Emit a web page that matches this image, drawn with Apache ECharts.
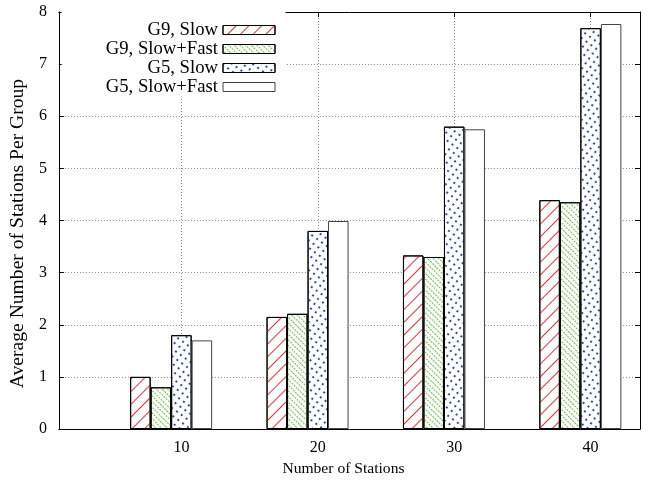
<!DOCTYPE html>
<html>
<head>
<meta charset="utf-8">
<script src="https://cdn.jsdelivr.net/npm/echarts@6/dist/echarts.min.js"></script>
<style>html,body{margin:0;padding:0;background:#fff}#c{width:654px;height:483px}</style>
</head>
<body>
<div id="c"></div>
<script>
var stations = [10, 20, 30, 40];
var g9Slow = [1.0, 2.15, 3.33, 4.39];
var g9SlowFast = [0.8, 2.21, 3.30, 4.35];
var g5Slow = [1.8, 3.80, 5.80, 7.69];
var g5SlowFast = [1.7, 3.99, 5.75, 7.77];
var yTicks = [0, 1, 2, 3, 4, 5, 6, 7, 8];
var seriesNames = ['G9, Slow', 'G9, Slow+Fast', 'G5, Slow', 'G5, Slow+Fast'];

function pairs(vals) { return stations.map(function (s, i) { return [s, vals[i]]; }); }

var FONT = 'Liberation Serif';
var chart = echarts.init(document.getElementById('c'), null, { renderer: 'canvas' });

var decals = [
  { symbol: 'rect', symbolSize: 1, color: '#f03030', dashArrayX: [1, 0], dashArrayY: [0.9, 8], rotation: -Math.PI / 4 },
  { symbol: 'rect', symbolSize: 1, color: '#66c040', dashArrayX: [2, 1], dashArrayY: [1, 2.2], rotation: Math.PI / 4 },
  { symbol: 'rect', symbolSize: 1, color: '#3050b0', dashArrayX: [1.2, 3.6], dashArrayY: [1.2, 3.6], rotation: Math.PI / 5 },
  null
];
var borders = ['#000', '#000', '#000', '#444'];
var vals = [g9Slow, g9SlowFast, g5Slow, g5SlowFast];

var series = vals.map(function (v, i) {
  var st = { color: '#fff', borderColor: borders[i], borderWidth: 1 };
  if (decals[i]) st.decal = decals[i];
  return { name: seriesNames[i], type: 'bar', data: pairs(v), barWidth: 20.5, barGap: '0%', itemStyle: st, emphasis: { disabled: true }, animation: false };
});
// empty slot used as the gnuplot cluster gap
series.push({ name: 'gap', type: 'bar', data: stations.map(function (s) { return [s, 0]; }), barWidth: 20.5, barGap: '0%', itemStyle: { color: 'rgba(0,0,0,0)', borderWidth: 0 }, animation: false, silent: true });

var option = {
  backgroundColor: '#fff',
  animation: false,
  grid: { left: 56, right: 14, top: 12, bottom: 54, containLabel: false },
  legend: {
    data: seriesNames,
    orient: 'vertical',
    align: 'right',
    right: 368.5,
    top: 12,
    padding: [8.5, 10, 0, 44],
    itemGap: 0,
    itemWidth: 52,
    itemHeight: 9,
    icon: 'rect',
    backgroundColor: '#fff',
    itemStyle: { borderWidth: 1 },
    textStyle: { fontFamily: FONT, fontSize: 18.7, color: '#000', lineHeight: 19 },
    selectedMode: false
  },
  xAxis: [{
    type: 'value', min: 1.02, max: 43.62,
    name: 'Number of Stations', nameLocation: 'middle', nameGap: 25,
    nameTextStyle: { fontFamily: FONT, fontSize: 15.6, color: '#000', padding: [0, 12, 0, 0] },
    axisLine: { show: true, onZero: false, lineStyle: { color: '#000', width: 1 } },
    axisTick: { show: true, inside: true, length: 5, customValues: stations, lineStyle: { color: '#000' } },
    axisLabel: { customValues: stations, fontFamily: FONT, fontSize: 16, color: '#000', margin: 11 },
    splitLine: { show: true, lineStyle: { color: '#888', type: [1, 2], width: 1 } }
  }, {
    type: 'value', min: 1.02, max: 43.62, position: 'top',
    axisLine: { show: true, onZero: false, lineStyle: { color: '#000', width: 1 } },
    axisTick: { show: true, inside: true, length: 5, customValues: stations, lineStyle: { color: '#000' } },
    axisLabel: { show: false }, splitLine: { show: false }
  }],
  yAxis: [{
    type: 'value', min: 0, max: 8, interval: 1,
    name: 'Average Number of Stations Per Group', nameLocation: 'middle', nameGap: 28,
    nameTextStyle: { fontFamily: FONT, fontSize: 19.6, color: '#000', padding: [0, 26, 0, 0] },
    axisLine: { show: true, onZero: false, lineStyle: { color: '#000', width: 1 } },
    axisTick: { show: true, inside: true, length: 5, lineStyle: { color: '#000' } },
    axisLabel: { fontFamily: FONT, fontSize: 16, color: '#000', margin: 12, formatter: function (v) { return yTicks.indexOf(v) >= 0 ? String(v) : ''; } },
    splitLine: { show: true, lineStyle: { color: '#888', type: [1, 2], width: 1 } }
  }, {
    type: 'value', min: 0, max: 8, interval: 1, position: 'right',
    axisLine: { show: true, onZero: false, lineStyle: { color: '#000', width: 1 } },
    axisTick: { show: true, inside: true, length: 5, lineStyle: { color: '#000' } },
    axisLabel: { show: false }, splitLine: { show: false }
  }],
  series: series
};
chart.setOption(option);
</script>
</body>
</html>
